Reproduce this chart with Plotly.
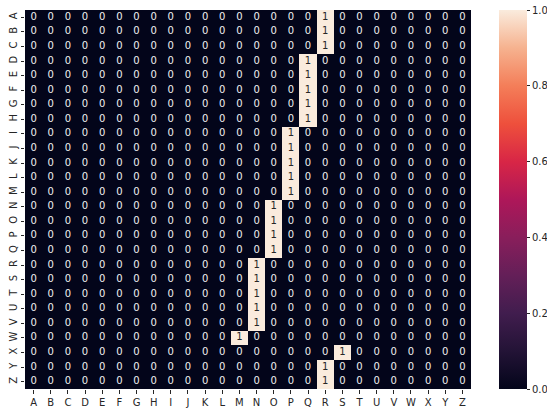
import plotly.graph_objects as go
import string

letters = list(string.ascii_uppercase)
row_labels = letters
col_labels = letters
# column letter holding the 1 for each row A..Z
one_position = ["R", "R", "R", "Q", "Q", "Q", "Q", "Q",
                "P", "P", "P", "P", "P",
                "O", "O", "O", "O",
                "N", "N", "N", "N", "N",
                "M", "S", "R", "R"]

z = [[1 if c == one_position[i] else 0 for c in col_labels] for i in range(len(row_labels))]

rocket = [
    [0.0, "rgb(3,5,26)"], [0.1, "rgb(35,19,54)"], [0.2, "rgb(65,29,78)"],
    [0.3, "rgb(100,31,88)"], [0.4, "rgb(137,30,91)"], [0.5, "rgb(174,23,89)"],
    [0.6, "rgb(216,38,70)"], [0.7, "rgb(238,80,60)"], [0.8, "rgb(244,126,89)"],
    [0.9, "rgb(246,178,143)"], [1.0, "rgb(250,235,221)"],
]

fig = go.Figure()
fig.add_trace(go.Heatmap(
    z=z, x=col_labels, y=row_labels, colorscale=rocket, zmin=0, zmax=1,
    xgap=0, ygap=0, hoverinfo="skip",
    colorbar=dict(
        thickness=28, thicknessmode="pixels", len=379, lenmode="pixels",
        x=(499 - 25) / (471 - 25), xanchor="left", xpad=0, ypad=0,
        y=1, yanchor="top",
        tickmode="array",
        tickvals=[0, 0.2, 0.4, 0.6, 0.8, 1.0], ticktext=["0.0", "0.2", "0.4", "0.6", "0.8", "1.0"],
        ticks="outside", ticklen=3.5, tickcolor="#262626", outlinewidth=0,
        tickfont=dict(family="DejaVu Sans", size=10, color="#262626"),
    ),
))

xs, ys, txt, cols = [], [], [], []
for i, r in enumerate(row_labels):
    for j, c in enumerate(col_labels):
        xs.append(c); ys.append(r); txt.append(str(z[i][j]))
        cols.append("#262626" if z[i][j] == 1 else "#f0f0f0")
fig.add_trace(go.Scatter(x=xs, y=ys, mode="text", text=txt,
                         textfont=dict(family="DejaVu Sans", size=10, color=cols),
                         hoverinfo="skip", showlegend=False, cliponaxis=False))

fig.update_layout(
    width=547, height=415,
    margin=dict(l=25, r=547 - 471, t=10, b=415 - 389, pad=0, autoexpand=False),
    plot_bgcolor="white", paper_bgcolor="white", showlegend=False,
    font=dict(family="DejaVu Sans", size=10, color="#262626"),
)
fig.update_xaxes(type="category", categoryorder="array", categoryarray=col_labels,
                 ticks="outside", ticklen=3.5, tickcolor="#262626", showgrid=False,
                 zeroline=False, showline=False, range=[-0.5, 25.5], automargin=False)
fig.update_yaxes(type="category", categoryorder="array", categoryarray=row_labels,
                 range=[25.5, -0.5], ticks="outside", ticklen=3.5, tickcolor="#262626",
                 showgrid=False, zeroline=False, showline=False, tickangle=-90, automargin=False)

fig.write_html("out.html")
